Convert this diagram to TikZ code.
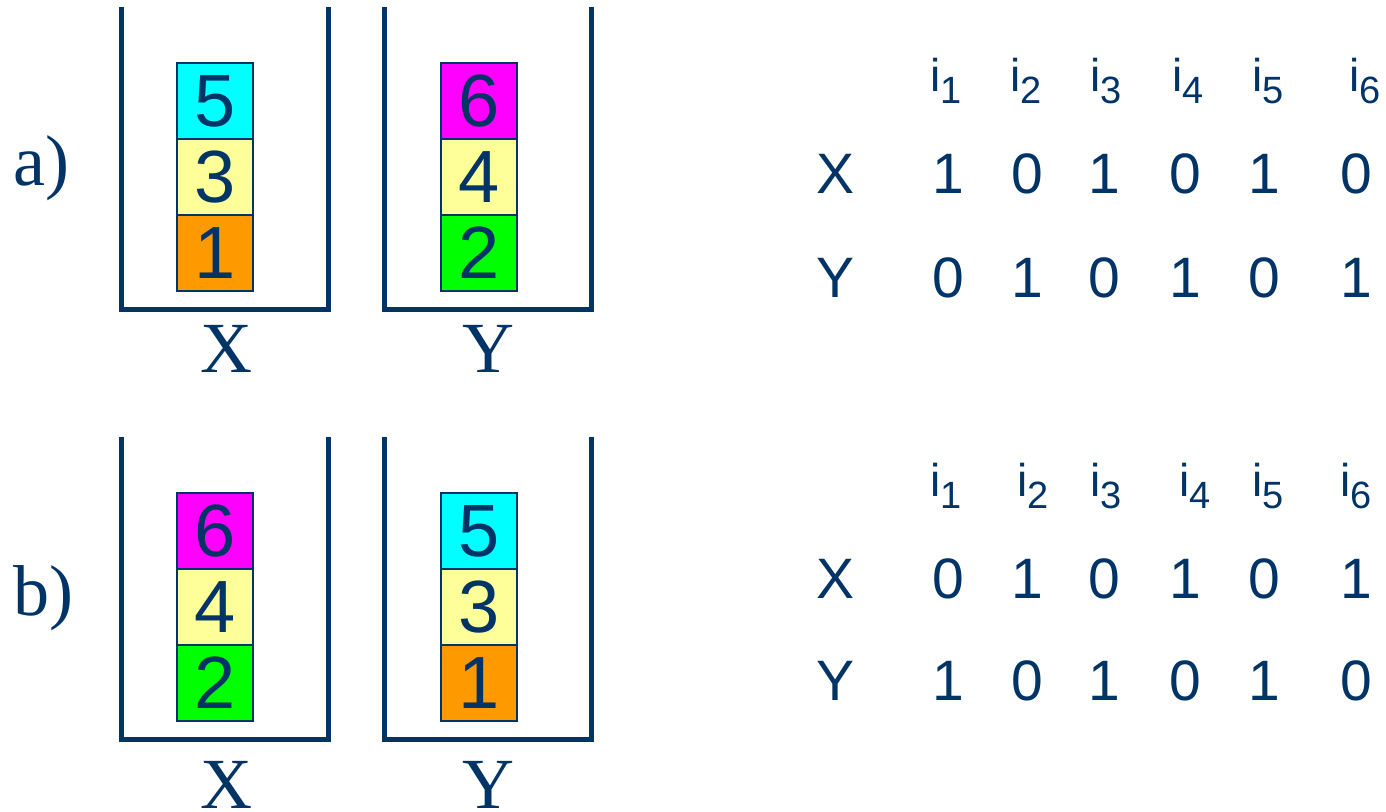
\documentclass[tikz,border=0pt]{standalone}
\usepackage{fontspec}
\setmainfont{Liberation Serif}
\newfontfamily\arialf{Liberation Sans}
\definecolor{navy}{RGB}{0,51,102}
\definecolor{cyanc}{RGB}{0,255,255}
\definecolor{yelc}{RGB}{255,255,153}
\definecolor{orac}{RGB}{255,153,0}
\definecolor{magc}{RGB}{255,0,255}
\definecolor{grnc}{RGB}{0,255,0}
\tikzset{
  wall/.style={draw=navy, line width=5pt, line join=miter},
  blk/.style={draw=navy, line width=2pt, minimum width=76pt, minimum height=76pt, inner sep=0pt,
     text=navy, font=\arialf\fontsize{74}{80}\selectfont},
  serlab/.style={text=navy, inner sep=0pt, anchor=base, font=\fontsize{72}{78}\selectfont},
  val/.style={text=navy, inner sep=0pt, anchor=base, font=\arialf\fontsize{57}{62}\selectfont},
  hdr/.style={text=navy, inner sep=0pt, anchor=base west, font=\arialf\fontsize{46}{50}\selectfont},
}
\newcommand{\hsub}[1]{i\raisebox{-12pt}{\fontsize{38}{42}\selectfont #1}}
\begin{document}
\begin{tikzpicture}[x=1pt,y=-1pt]
\useasboundingbox (0,0) rectangle (1386,811);
% ---------- a) ----------
\node[serlab, anchor=base west] (la) at (13,185) {a)};
\draw[wall] (121,7) -- (121,309.5) -- (328.5,309.5) -- (328.5,7);
\draw[wall] (384.5,7) -- (384.5,309.5) -- (591.5,309.5) -- (591.5,7);
\node[blk, fill=cyanc] (aX5) at (215,101) {5};
\node[blk, fill=yelc]  (aX3) at (215,177) {3};
\node[blk, fill=orac]  (aX1) at (215,253) {1};
\node[blk, fill=magc]  (aY6) at (479,101) {6};
\node[blk, fill=yelc]  (aY4) at (479,177) {4};
\node[blk, fill=grnc]  (aY2) at (479,253) {2};
\node[serlab] (aXl) at (226,372) {X};
\node[serlab] (aYl) at (488,372) {Y};
% table a
\node[hdr] (ah1) at (930,91) {\hsub{1}};
\node[hdr] (ah2) at (1010,91) {\hsub{2}};
\node[hdr] (ah3) at (1090,91) {\hsub{3}};
\node[hdr] (ah4) at (1172,91) {\hsub{4}};
\node[hdr] (ah5) at (1252,91) {\hsub{5}};
\node[hdr] (ah6) at (1349,91) {\hsub{6}};
\node[val] (aXr) at (835,193) {X};
\node[val] (aYr) at (835,297) {Y};
\foreach \x/\vx/\vy [count=\k] in {948/1/0,1027/0/1,1104/1/0,1185/0/1,1264/1/0,1356/0/1}{
  \node[val] (aXv\k) at (\x,193) {\vx};
  \node[val] (aYv\k) at (\x,297) {\vy};
}
% ---------- b) ----------
\node[serlab, anchor=base west] (lb) at (13,615) {b)};
\draw[wall] (121,437) -- (121,739.5) -- (328.5,739.5) -- (328.5,437);
\draw[wall] (384.5,437) -- (384.5,739.5) -- (591.5,739.5) -- (591.5,437);
\node[blk, fill=magc]  (bX6) at (215,531) {6};
\node[blk, fill=yelc]  (bX4) at (215,607) {4};
\node[blk, fill=grnc]  (bX2) at (215,683) {2};
\node[blk, fill=cyanc] (bY5) at (479,531) {5};
\node[blk, fill=yelc]  (bY3) at (479,607) {3};
\node[blk, fill=orac]  (bY1) at (479,683) {1};
\node[serlab] (bXl) at (226,808) {X};
\node[serlab] (bYl) at (488,808) {Y};
% table b
\node[hdr] (bh1) at (930,496) {\hsub{1}};
\node[hdr] (bh2) at (1017,496) {\hsub{2}};
\node[hdr] (bh3) at (1090,496) {\hsub{3}};
\node[hdr] (bh4) at (1179,496) {\hsub{4}};
\node[hdr] (bh5) at (1252,496) {\hsub{5}};
\node[hdr] (bh6) at (1340,496) {\hsub{6}};
\node[val] (bXr) at (835,598) {X};
\node[val] (bYr) at (835,700) {Y};
\foreach \x/\vx/\vy [count=\k] in {948/0/1,1027/1/0,1104/0/1,1185/1/0,1264/0/1,1356/1/0}{
  \node[val] (bXv\k) at (\x,598) {\vx};
  \node[val] (bYv\k) at (\x,700) {\vy};
}
\end{tikzpicture}
\end{document}
